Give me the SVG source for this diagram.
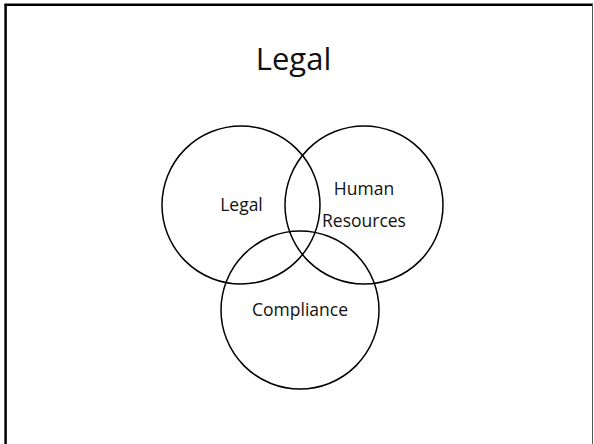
<svg xmlns="http://www.w3.org/2000/svg" width="594" height="444" viewBox="0 0 594 444">
<style>
.c{fill:none;stroke:#000;stroke-width:1.5}
.t{font-family:"Open Sans","Liberation Sans",sans-serif;fill:#111;text-anchor:middle}
.l{font-size:17.5px}
</style>
<rect x="0" y="0" width="594" height="444" fill="#fff"/>
<g id="frame">
<line x1="4.5" y1="4.7" x2="593" y2="4.7" stroke="#000" stroke-width="2.5"/>
<line x1="5.6" y1="4" x2="5.6" y2="444" stroke="#000" stroke-width="2.5"/>
<line x1="592.5" y1="4" x2="592.5" y2="444" stroke="#555" stroke-width="1"/>
</g>
<g id="title"><text class="t" x="293.5" y="70" font-size="31">Legal</text></g>
<g id="legal"><circle class="c" cx="241" cy="205" r="79"/><text class="t l" x="241.5" y="211">Legal</text></g>
<g id="hr"><circle class="c" cx="364" cy="205" r="79"/><text class="t l" x="364" y="195">Human</text><text class="t l" x="364" y="226.5">Resources</text></g>
<g id="compliance"><circle class="c" cx="300" cy="310" r="79"/><text class="t l" x="300" y="315.5">Compliance</text></g>
<g id="connectors"/>
</svg>
